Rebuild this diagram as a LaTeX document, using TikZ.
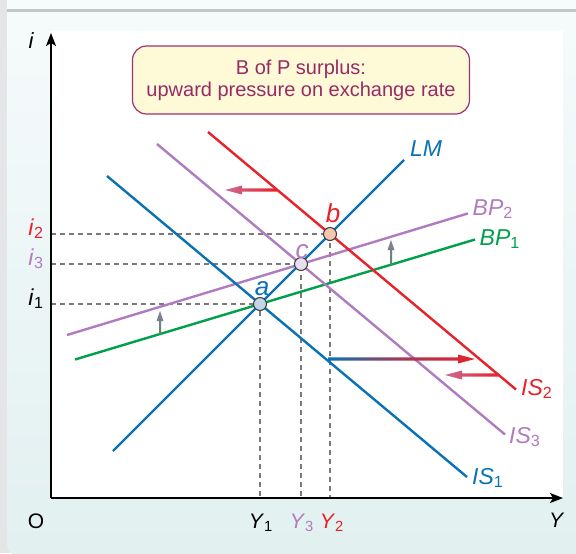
\documentclass[tikz,border=0pt]{standalone}
\usepackage{fontspec}
\setmainfont{Liberation Sans}
\usetikzlibrary{arrows.meta}
\definecolor{cBlue}{HTML}{0A72B4}
\definecolor{cRed}{HTML}{E8212B}
\definecolor{cPurple}{HTML}{B07BBF}
\definecolor{cGreen}{HTML}{00A04B}
\definecolor{cGuide}{HTML}{7A7A7A}
\definecolor{cBoxLine}{HTML}{A3306F}
\definecolor{cBoxFill}{HTML}{FEF9D7}
\definecolor{cBoxText}{HTML}{962C66}
\definecolor{cPanelTop}{HTML}{F7FBFC}
\definecolor{cPanelBot}{HTML}{E2F0F0}
\definecolor{cStrip}{HTML}{E4E5E7}
\definecolor{cRule}{HTML}{C2C7C9}
\definecolor{cPink}{HTML}{CB6A94}
\definecolor{cShiftLo}{HTML}{4F8D6B}
\definecolor{cShiftHi}{HTML}{8E7C9C}
\definecolor{cDotA}{HTML}{C4D5E5}
\definecolor{cDotB}{HTML}{F6C6AE}
\definecolor{cDotC}{HTML}{E7DEEF}
\newcommand{\lbl}[2]{\textit{#1}\textsubscript{\upshape #2}}
\tikzset{
  econ/.style={
    every node/.style={inner sep=0pt, outer sep=0pt},
    line cap=butt, line join=round,
  },
  axisLine/.style={-{Stealth[length=6.5pt, width=5pt, inset=1.5pt]}, black, line width=0.7pt},
  curve/.style={line width=1.2pt},
  guide/.style={cGuide, line width=0.6pt, dash pattern=on 2.5pt off 2pt},
  eqDot/.style={circle, draw=black!75, line width=0.55pt, minimum size=6.5pt, inner sep=0pt},
  curveLabel/.style={font=\fontsize{11.5}{13}\selectfont, anchor=base},
  ptLabel/.style={font=\fontsize{13}{15}\selectfont\itshape, anchor=base},
  axisLabel/.style={font=\fontsize{10.5}{12}\selectfont, anchor=base},
  infoBox/.style={
    draw=cBoxLine, fill=cBoxFill, text=cBoxText, line width=0.6pt,
    rounded corners=7pt, align=center, minimum width=168.5pt, minimum height=34pt,
    font=\fontsize{10}{11}\selectfont,
  },
}

\begin{document}
\begin{tikzpicture}[econ, x=0.5pt, y=-0.5pt]
% pixel grid, y runs down
\useasboundingbox (0,0) rectangle (576,553);

% panel background
\fill[cStrip] (0,0) rectangle (576,553);
\shade[top color=cPanelTop, bottom color=cPanelBot, rounded corners=6pt]
  (7,-20) rectangle (600,556);
\fill[cPanelTop] (7,0) rectangle (576,10);
\draw[cRule, line width=1.2pt] (7,10.5) -- (576,10.5);
\fill[white] (50,31) rectangle (563,498);

% origin and equilibria
\coordinate (O) at (51,498);
\coordinate (ptA) at (260,304);
\coordinate (ptB) at (330,234);
\coordinate (ptC) at (301,264);

% dashed guides to the axes
\foreach \p in {ptA, ptB, ptC}
  \draw[guide] (O |- \p) -- (\p) -- (\p |- O);

% curves
\draw[curve, cGreen]  (75,359.5) coordinate (bp1Lo) -- (475,239.5) coordinate (bp1Hi);
\draw[curve, cPurple] (67,335) coordinate (bp2Lo) -- (468,213.4) coordinate (bp2Hi);
\draw[curve, cBlue]   (113,451) coordinate (lmLo) -- (404,160) coordinate (lmHi);
\draw[curve, cBlue]   (107,176) coordinate (is1Hi) -- (467,477) coordinate (is1Lo);
\draw[curve, cPurple] (157,144) coordinate (is3Hi) -- (505,434.5) coordinate (is3Lo);
\draw[curve, cRed]    (208,132) coordinate (is2Hi) -- (516,389.5) coordinate (is2Lo);

% shift arrows: BP up, IS out then back
\shade[top color=cShiftHi, bottom color=cShiftLo]
  (160,311) -- (163.5,321) -- (161,321) -- (161,334) -- (159,334) -- (159,321) -- (156.5,321) -- cycle;
\shade[top color=cShiftHi, bottom color=cShiftLo]
  (391,240) -- (394.5,250) -- (392,250) -- (392,265) -- (390,265) -- (390,250) -- (387.5,250) -- cycle;
\shade[left color=cBlue, right color=cRed, middle color=cRed!70!cBlue]
  (328,357.3) -- (458,357.3) -- (458,354.5) -- (475,359) -- (458,363.5) -- (458,360.7) -- (328,360.7) -- cycle;
\shade[left color=cPink, right color=cRed]
  (225,190) -- (242,185.5) -- (242,188.3) -- (277,188.3) -- (277,191.7) -- (242,191.7) -- (242,194.5) -- cycle;
\shade[left color=cPink, right color=cRed]
  (445,375) -- (462,370.5) -- (462,373.3) -- (499,373.3) -- (499,376.7) -- (462,376.7) -- (462,379.5) -- cycle;

% axes
\draw[axisLine] (O) -- (51,33) coordinate (iTop);
\draw[axisLine] (O) -- (563,498) coordinate (yEnd);

% equilibrium points
\node[eqDot, fill=cDotA] (a) at (ptA) {};
\node[eqDot, fill=cDotB] (b) at (ptB) {};
\node[eqDot, fill=cDotC] (c) at (ptC) {};
\node[ptLabel, text=cBlue]   (aLab) at (262,295) {a};
\node[ptLabel, text=cRed]    (bLab) at (333,222) {b};
\node[ptLabel, text=cPurple] (cLab) at (302,258) {c};

% curve labels
\node[curveLabel, text=cBlue]   (lmLab)  at (426,156) {\textit{LM}};
\node[curveLabel, text=cPurple] (bp2Lab) at (493,215) {\lbl{BP}{2}};
\node[curveLabel, text=cGreen]  (bp1Lab) at (500,245) {\lbl{BP}{1}};
\node[curveLabel, text=cRed]    (is2Lab) at (537,395) {\lbl{IS}{2}};
\node[curveLabel, text=cPurple] (is3Lab) at (525,443) {\lbl{IS}{3}};
\node[curveLabel, text=cBlue]   (is1Lab) at (488,484) {\lbl{IS}{1}};

% axis labels
\node[axisLabel, font=\fontsize{11}{13}\selectfont\itshape] (iLab) at (31,48) {i};
\node[axisLabel] (oLab) at (36,528) {O};
\node[axisLabel, font=\fontsize{10.5}{12}\selectfont\itshape] (yLab) at (556,527) {Y};
\node[axisLabel, anchor=base east, font=\fontsize{11.5}{13}\selectfont, text=cRed]    (i2Lab) at (44,235) {\lbl{i}{2}};
\node[axisLabel, anchor=base east, font=\fontsize{11.5}{13}\selectfont, text=cPurple] (i3Lab) at (44,265) {\lbl{i}{3}};
\node[axisLabel, anchor=base east, font=\fontsize{11.5}{13}\selectfont]               (i1Lab) at (44,305) {\lbl{i}{1}};
\node[axisLabel]                 (y1Lab) at (261,528) {\lbl{Y}{1}};
\node[axisLabel, text=cPurple]   (y3Lab) at (302,528) {\lbl{Y}{3}};
\node[axisLabel, text=cRed]      (y2Lab) at (332,528) {\lbl{Y}{2}};

% note box
\node[infoBox] (note) at (301,80) {B of P surplus:\\upward pressure on exchange rate};

\end{tikzpicture}
\end{document}
